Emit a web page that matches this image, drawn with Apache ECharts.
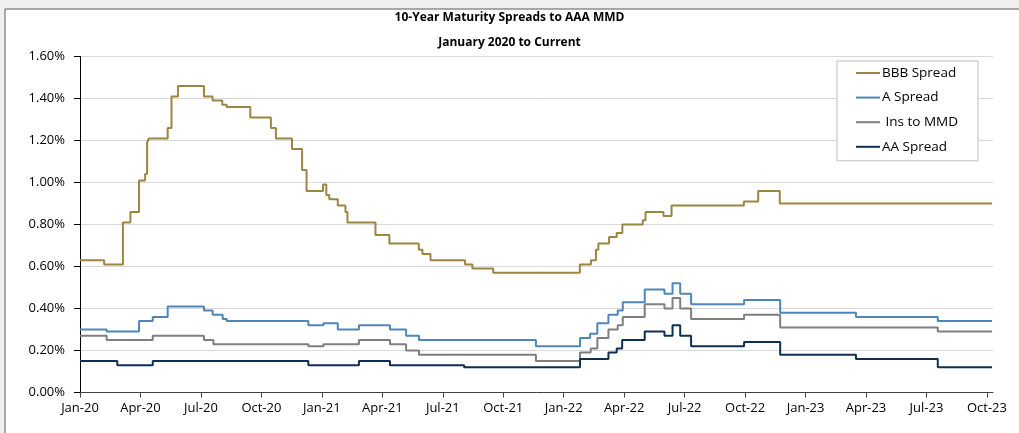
<!DOCTYPE html>
<html>
<head>
<meta charset="utf-8">
<script src="https://cdn.jsdelivr.net/npm/echarts@6.0.0/dist/echarts.min.js"></script>
<style>
  html, body { margin: 0; padding: 0; background: #fff; }
  #chart { width: 1019px; height: 433px; }
</style>
</head>
<body>
<div id="chart"></div>
<script>
// x values are months since Jan 2020, y values are spreads in %
const quarterLabels = ['Jan-20', 'Apr-20', 'Jul-20', 'Oct-20', 'Jan-21', 'Apr-21', 'Jul-21', 'Oct-21',
  'Jan-22', 'Apr-22', 'Jul-22', 'Oct-22', 'Jan-23', 'Apr-23', 'Jul-23', 'Oct-23'];
const quarterTicks = quarterLabels.map((_, i) => i * 3);

const bbbSpread = [
  [0, 0.63], [1.2, 0.61], [2.13, 0.81], [2.5, 0.86], [2.93, 1.01], [3.23, 1.04], [3.33, 1.19], [3.42, 1.21],
  [4.35, 1.26], [4.54, 1.41], [4.86, 1.46], [6.15, 1.41], [6.58, 1.39], [7.06, 1.37], [7.28, 1.36],
  [8.45, 1.31], [9.47, 1.26], [9.72, 1.21], [10.52, 1.16], [11.02, 1.06], [11.24, 0.96], [12.06, 0.99],
  [12.22, 0.94], [12.37, 0.92], [12.79, 0.89], [13.17, 0.86], [13.27, 0.81], [14.66, 0.75], [15.35, 0.71],
  [16.81, 0.68], [16.99, 0.66], [17.39, 0.63], [19.1, 0.61], [19.47, 0.59], [20.5, 0.57], [24.8, 0.61],
  [25.35, 0.63], [25.6, 0.68], [25.72, 0.71], [26.25, 0.74], [26.63, 0.76], [26.91, 0.80], [27.92, 0.82],
  [28.06, 0.86], [28.95, 0.84], [29.35, 0.89], [32.94, 0.91], [33.65, 0.96], [34.72, 0.90], [45.25, 0.90]
];
const aSpread = [
  [0, 0.30], [1.32, 0.29], [2.93, 0.34], [3.61, 0.36], [4.35, 0.41], [6.15, 0.39], [6.58, 0.37],
  [7.08, 0.35], [7.28, 0.34], [11.33, 0.32], [12.08, 0.33], [12.79, 0.30], [13.84, 0.32], [15.38, 0.30],
  [16.18, 0.27], [16.82, 0.25], [22.62, 0.22], [24.81, 0.26], [25.31, 0.28], [25.67, 0.33], [26.22, 0.37],
  [26.68, 0.39], [26.93, 0.43], [28.02, 0.49], [29.0, 0.47], [29.4, 0.52], [29.78, 0.47], [30.32, 0.42],
  [32.95, 0.44], [34.74, 0.38], [38.5, 0.36], [42.56, 0.34], [45.25, 0.34]
];
const insToMmd = [
  [0, 0.27], [1.32, 0.25], [3.61, 0.27], [6.15, 0.25], [6.62, 0.23], [11.33, 0.22], [12.08, 0.23],
  [13.84, 0.25], [15.38, 0.23], [16.18, 0.20], [16.82, 0.18], [22.62, 0.15], [24.81, 0.19], [25.34, 0.21],
  [25.67, 0.26], [26.22, 0.30], [26.68, 0.32], [26.93, 0.36], [28.02, 0.42], [29.0, 0.40], [29.4, 0.45],
  [29.78, 0.40], [30.32, 0.35], [32.95, 0.37], [34.74, 0.31], [42.56, 0.29], [45.25, 0.29]
];
const aaSpread = [
  [0, 0.15], [1.85, 0.13], [3.61, 0.15], [11.33, 0.13], [13.84, 0.15], [15.38, 0.13], [19.06, 0.12],
  [24.81, 0.16], [26.22, 0.19], [26.63, 0.21], [26.9, 0.25], [28.02, 0.29], [29.0, 0.27], [29.4, 0.32],
  [29.78, 0.27], [30.32, 0.22], [32.95, 0.24], [34.74, 0.18], [38.5, 0.16], [42.56, 0.12], [45.25, 0.12]
];

const font = 'Open Sans';

function stepLine(name, data, color) {
  return {
    name: name,
    type: 'line',
    step: 'end',
    symbol: 'none',
    data: data,
    color: color,
    lineStyle: { width: 2, color: color },
    emphasis: { disabled: true }
  };
}

const chart = echarts.init(document.getElementById('chart'));
const option = {
  animation: false,
  backgroundColor: '#fff',
  textStyle: { fontFamily: font },
  graphic: [
    { type: 'rect', z: -10, shape: { x: 0, y: 0, width: 1019, height: 9 }, style: { fill: '#efefef' } },
    { type: 'rect', z: -10, shape: { x: 0, y: 0, width: 5, height: 433 }, style: { fill: '#efefef' } },
    { type: 'polyline', z: -9, shape: { points: [[5, 9], [5, 433]] }, style: { stroke: '#595959', lineWidth: 1 } },
    { type: 'polyline', z: -9, shape: { points: [[5, 9], [1019, 9]] }, style: { stroke: '#595959', lineWidth: 1 } }
  ],
  title: {
    text: '10-Year Maturity Spreads to AAA MMD\nJanuary 2020 to Current',
    left: 'center',
    top: 0,
    textStyle: { fontFamily: font, fontSize: 12, fontWeight: 'bold', color: '#000', lineHeight: 25 }
  },
  legend: {
    orient: 'vertical',
    left: 837,
    top: 61,
    padding: [4, 20, 6, 19],
    itemGap: 8.6,
    itemWidth: 24,
    itemHeight: 2,
    icon: 'rect',
    borderColor: '#bfbfbf',
    borderWidth: 1,
    backgroundColor: '#fff',
    textStyle: { fontFamily: font, fontSize: 13.5, color: '#000', lineHeight: 16, padding: [0, 0, 0, -3] },
    data: ['BBB Spread', 'A Spread', ' Ins to MMD', 'AA Spread']
  },
  grid: { left: 80, right: 26, top: 56.5, bottom: 40.5 },
  xAxis: {
    type: 'value',
    min: 0,
    max: 45.3,
    interval: 3,
    splitLine: { show: false },
    axisLine: { lineStyle: { color: '#404040', width: 1 } },
    axisTick: { show: true, length: 5, lineStyle: { color: '#404040' }, customValues: quarterTicks },
    axisLabel: {
      customValues: quarterTicks,
      margin: 9,
      fontSize: 13,
      color: '#000',
      fontFamily: font,
      formatter: v => (v % 3 === 0 ? quarterLabels[v / 3] : '')
    }
  },
  yAxis: {
    type: 'value',
    min: 0,
    max: 1.6,
    interval: 0.2,
    axisLine: { show: true, lineStyle: { color: '#000', width: 1 } },
    axisTick: { show: true, length: 6, lineStyle: { color: '#000' } },
    splitLine: { show: true, lineStyle: { color: '#d9d9d9', width: 1 } },
    axisLabel: {
      margin: 15,
      fontSize: 13,
      color: '#000',
      fontFamily: font,
      formatter: v => v.toFixed(2) + '%'
    }
  },
  series: [
    stepLine('BBB Spread', bbbSpread, '#9b8542'),
    stepLine('A Spread', aSpread, '#4f86ba'),
    stepLine(' Ins to MMD', insToMmd, '#7f7f7f'),
    stepLine('AA Spread', aaSpread, '#0f2f52')
  ]
};
chart.setOption(option);
</script>
</body>
</html>
